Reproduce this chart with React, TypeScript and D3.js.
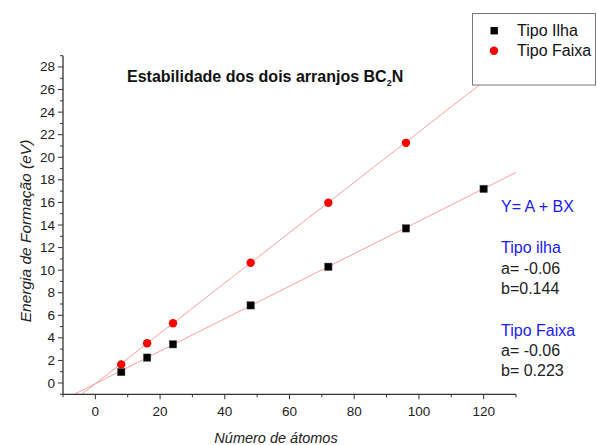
import React from 'react';
import * as d3 from 'd3';

// number of atoms for each structure
const atomsIlha = [8, 16, 24, 48, 72, 96, 120];
const energyIlha = [0.97, 2.25, 3.43, 6.88, 10.3, 13.7, 17.2];
const atomsFaixa = [8, 16, 24, 48, 72, 96];
const energyFaixa = [1.65, 3.52, 5.29, 10.66, 15.97, 21.28];

// linear fit Y = A + BX
const fitA = [-0.06, -0.06];
const fitB = [0.144, 0.223];

const xTicks = [0, 20, 40, 60, 80, 100, 120];
const yTicks = [0, 2, 4, 6, 8, 10, 12, 14, 16, 18, 20, 22, 24, 26, 28];

const W = 597;
const H = 445;
const font = "'Liberation Sans', Arial, Helvetica, sans-serif";

export default function App() {
  const x = d3.scaleLinear().domain([-10, 130]).range([63, 516]);
  const y = d3.scaleLinear().domain([-1, 29]).range([394.3, 55.7]);

  // fitted straight line over the whole x range, clipped to the plot
  const fitLine = (a: number, b: number) => {
    const xs = d3.range(-10, 130.01, 1);
    return d3.line<number>().x(d => x(d)).y(d => y(a + b * d))(xs);
  };

  const axisColor = '#333';
  const minorX = d3.range(-10, 131, 10);
  const minorY = d3.range(-1, 30, 1);

  return (
    <svg width={W} height={H} style={{ position: 'absolute', left: 0, top: 0, fontFamily: font }}>
      <rect width={W} height={H} fill="white" />
      <defs>
        <clipPath id="plot">
          <rect x={x(-10)} y={y(29)} width={x(130) - x(-10)} height={y(-1) - y(29)} />
        </clipPath>
      </defs>

      {/* fit lines */}
      <g clipPath="url(#plot)" fill="none" stroke="#ff9a9a" strokeWidth={1}>
        <path d={fitLine(fitA[0], fitB[0]) || ''} />
        <path d={fitLine(fitA[1], fitB[1]) || ''} />
      </g>

      {/* axes */}
      <g stroke={axisColor} strokeWidth={1.3}>
        <line x1={x(-10)} x2={x(-10)} y1={y(-1)} y2={y(29)} />
        <line x1={x(-10)} x2={x(130)} y1={y(-1)} y2={y(-1)} />
        {minorY.map(v => (
          <line key={'my' + v} x1={x(-10) - (v % 2 === 0 ? 5 : 3)} x2={x(-10)} y1={y(v)} y2={y(v)} strokeWidth={1} />
        ))}
        {minorX.map(v => (
          <line key={'mx' + v} x1={x(v)} x2={x(v)} y1={y(-1)} y2={y(-1) + (v % 20 === 0 ? 5 : 3)} strokeWidth={1} />
        ))}
      </g>
      <g fontSize={13.5} fill="#222">
        {yTicks.map(v => (
          <text key={'yt' + v} x={x(-10) - 8} y={y(v) + 4.5} textAnchor="end">{v}</text>
        ))}
        {xTicks.map(v => (
          <text key={'xt' + v} x={x(v)} y={416} textAnchor="middle">{v}</text>
        ))}
      </g>

      {/* axis titles */}
      <text x={276} y={443} textAnchor="middle" fontSize={14.5} fontStyle="italic" fill="#222">Número de átomos</text>
      <text transform={`translate(31,231) rotate(-90)`} textAnchor="middle" fontSize={15.5} fontStyle="italic" fill="#222">Energia de Formação (eV)</text>

      {/* title */}
      <text x={127} y={82} fontSize={16} fontWeight="bold" fill="#111">
        Estabilidade dos dois arranjos BC<tspan fontSize={9} dy={4}>2</tspan><tspan dy={-4}>N</tspan>
      </text>

      {/* markers */}
      {atomsIlha.map((a, i) => (
        <rect key={'s' + i} x={x(a) - 3.7} y={y(energyIlha[i]) - 3.7} width={7.4} height={7.4} fill="black" stroke="#555" strokeWidth={0.5} />
      ))}
      {atomsFaixa.map((a, i) => (
        <circle key={'c' + i} cx={x(a)} cy={y(energyFaixa[i])} r={4.2} fill="#ff0000" />
      ))}

      {/* legend */}
      <rect x={472.5} y={13.5} width={123} height={71.5} fill="white" stroke="#777" strokeWidth={1} />
      <rect x={490.5} y={27} width={7.4} height={7.4} fill="black" />
      <text x={517} y={36} fontSize={16} fill="#111">Tipo Ilha</text>
      <circle cx={494} cy={50.7} r={4.2} fill="#ff0000" />
      <text x={517} y={56} fontSize={16} fill="#111">Tipo Faixa</text>

      {/* fit annotation */}
      <g fontSize={16}>
        <text x={501} y={212} fill="#1a1aff">Y= A + BX</text>
        <text x={501} y={253} fill="#1a1aff">Tipo ilha</text>
        <text x={501} y={273.5} fill="#222">a= {fitA[0]}</text>
        <text x={501} y={293.5} fill="#222">b={fitB[0]}</text>
        <text x={501} y={336} fill="#1a1aff">Tipo Faixa</text>
        <text x={501} y={356} fill="#222">a= {fitA[1]}</text>
        <text x={501} y={376} fill="#222">b= {fitB[1]}</text>
      </g>
    </svg>
  );
}
